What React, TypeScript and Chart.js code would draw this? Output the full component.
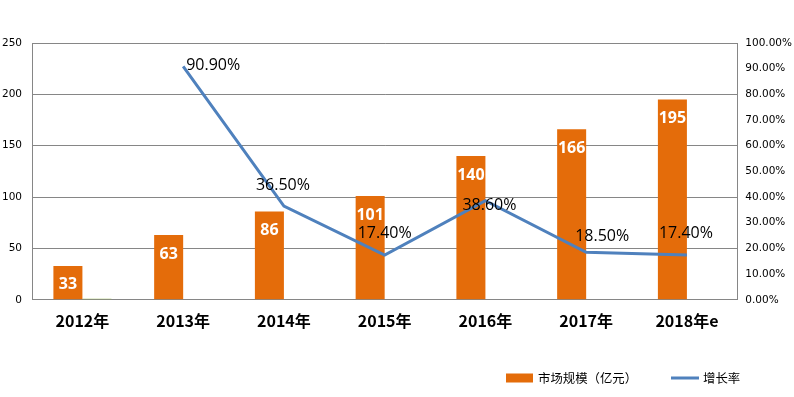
import React, { useEffect, useRef } from 'react';
import { Chart, registerables } from 'chart.js';

Chart.register(...registerables);

const categories = ['2012年', '2013年', '2014年', '2015年', '2016年', '2017年', '2018年e'];
const marketSize = [33, 63, 86, 101, 140, 166, 195];
const helperBar = [1, null, null, null, null, null, null];
const growthRate = [null, 0.909, 0.365, 0.174, 0.386, 0.185, 0.174];
const seriesNames = ['市场规模（亿元）', '增长率'];

const ORANGE = '#E46C0A';
const BLUE = '#4F81BD';
const GREEN = '#9BBB59';
const GRID = '#868686';

// label offsets for the growth-rate labels (dx, dy, align)
const rateLabelOffsets: [number, number, CanvasTextAlign][] = [
  [0, -22, 'center'],
  [3, -1, 'left'],
  [-1, -21, 'center'],
  [0, -22, 'center'],
  [4, 5, 'center'],
  [16, -16, 'center'],
  [-1, -22, 'center'],
];

const labelPlugin = {
  id: 'valueLabels',
  afterDatasetsDraw(chart: any) {
    const ctx = chart.ctx as CanvasRenderingContext2D;
    ctx.save();
    const barMeta = chart.getDatasetMeta(0);
    ctx.font = 'bold 16px "Open Sans"';
    ctx.fillStyle = '#ffffff';
    ctx.textAlign = 'center';
    ctx.textBaseline = 'middle';
    barMeta.data.forEach((el: any, i: number) => {
      ctx.fillText(String(marketSize[i]), el.x, el.y + 19);
    });
    const lineMeta = chart.getDatasetMeta(2);
    ctx.font = '16px "Open Sans"';
    ctx.fillStyle = '#000000';
    lineMeta.data.forEach((el: any, i: number) => {
      const v = growthRate[i];
      if (v == null) return;
      const [dx, dy, align] = rateLabelOffsets[i];
      ctx.textAlign = align;
      ctx.fillText((v * 100).toFixed(2) + '%', el.x + dx, el.y + dy);
    });
    ctx.restore();
  },
};

const legendPlugin = {
  id: 'customLegend',
  afterDraw(chart: any) {
    const ctx = chart.ctx as CanvasRenderingContext2D;
    ctx.save();
    const y = 378;
    ctx.font = '12.4px "Noto Sans CJK SC"';
    ctx.textBaseline = 'middle';
    ctx.textAlign = 'left';
    ctx.fillStyle = ORANGE;
    ctx.fillRect(506, y - 4.5, 27, 9);
    ctx.fillStyle = '#000';
    ctx.fillText(seriesNames[0], 538, y);
    ctx.strokeStyle = BLUE;
    ctx.lineWidth = 3;
    ctx.beginPath();
    ctx.moveTo(671, y);
    ctx.lineTo(699, y);
    ctx.stroke();
    ctx.fillText(seriesNames[1], 703, y);
    ctx.restore();
  },
};

export default function App() {
  const ref = useRef<HTMLCanvasElement>(null);
  useEffect(() => {
    if (!ref.current) return;
    const chart = new Chart(ref.current, {
      type: 'bar',
      data: {
        labels: categories,
        datasets: [
          {
            type: 'bar',
            label: seriesNames[0],
            data: marketSize,
            backgroundColor: ORANGE,
            borderWidth: 0,
            yAxisID: 'y',
            order: 1,
            categoryPercentage: 0.576,
            barPercentage: 1,
          },
          {
            type: 'bar',
            label: 'aux',
            data: helperBar as any,
            backgroundColor: GREEN,
            borderWidth: 0,
            yAxisID: 'y',
            order: 1,
            categoryPercentage: 0.576,
            barPercentage: 1,
          },
          {
            type: 'line',
            label: seriesNames[1],
            data: growthRate as any,
            borderColor: BLUE,
            backgroundColor: BLUE,
            borderWidth: 3,
            pointRadius: 0,
            tension: 0,
            yAxisID: 'y1',
            order: 0,
          } as any,
        ],
      },
      options: {
        responsive: false,
        animation: false,
        devicePixelRatio: 1,
        layout: { padding: { left: -8, right: -6, top: 43, bottom: 54 } },
        plugins: {
          legend: { display: false },
          tooltip: { enabled: false },
        },
        scales: {
          x: {
            grid: { display: false, drawTicks: false },
            border: { color: GRID },
            ticks: {
              color: '#000',
              padding: 12,
              font: { family: '"Noto Sans CJK SC"', size: 16, weight: 'bold' },
            },
          },
          y: {
            position: 'left',
            min: 0,
            max: 250,
            ticks: {
              stepSize: 50,
              color: '#000',
              padding: 10,
              font: { family: '"DejaVu Sans"', size: 10.5 },
            },
            grid: { color: GRID, drawTicks: false },
            border: { color: GRID },
          },
          y1: {
            position: 'right',
            min: 0,
            max: 1,
            ticks: {
              stepSize: 0.1,
              color: '#000',
              padding: 8,
              font: { family: '"DejaVu Sans"', size: 10.5 },
              callback: (v: any) => (Number(v) * 100).toFixed(2) + '%',
            },
            grid: { display: false, drawTicks: false },
            border: { color: GRID },
          },
        },
      },
      plugins: [labelPlugin, legendPlugin],
    });
    return () => chart.destroy();
  }, []);
  return (
    <div style={{ position: 'fixed', left: 0, top: 0, width: 794, height: 397, background: '#fff' }}>
      <canvas ref={ref} width={794} height={397} />
    </div>
  );
}
